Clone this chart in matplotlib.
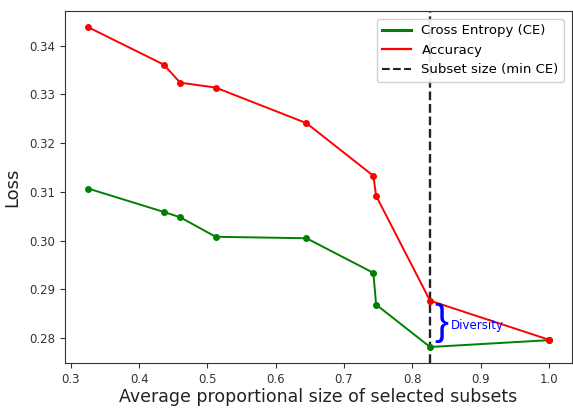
import matplotlib
matplotlib.use("Agg")
import matplotlib.pyplot as plt
from matplotlib.lines import Line2D

# Average proportional subset size for each selection step
subset_size = [0.325, 0.436, 0.460, 0.512, 0.645, 0.743, 0.747, 0.826, 1.0]
# Loss when subsets are selected by cross entropy
ce_loss = [0.3107, 0.3059, 0.3048, 0.3008, 0.3005, 0.2934, 0.2869, 0.2782, 0.2796]
# Loss when subsets are selected by accuracy
acc_loss = [0.3438, 0.3361, 0.3324, 0.3314, 0.3241, 0.3133, 0.3092, 0.2877, 0.2797]

min_ce_size = subset_size[ce_loss.index(min(ce_loss))]

fig = plt.figure(figsize=(5.73, 4.11), dpi=100)
ax = fig.add_axes([0.1134, 0.1168, 0.8846, 0.8562])

ax.plot(subset_size, ce_loss, color="green", lw=1.4, marker="o", ms=4)
ax.plot(subset_size, acc_loss, color="red", lw=1.4, marker="o", ms=4)
ax.axvline(min_ce_size, color="#222222", ls="--", lw=1.7, zorder=1)

# Gap between the two curves at the chosen subset size
gap_mid = (acc_loss[7] + ce_loss[7]) / 2
ax.text(min_ce_size + 0.017, gap_mid + 0.0002, "}", color="blue", fontsize=30,
        family="Liberation Sans", ha="center", va="center")
ax.text(min_ce_size + 0.031, gap_mid - 0.0003, "Diversity", color="blue",
        fontsize=8.5, ha="left", va="center")

ax.set_xticks([0.3, 0.4, 0.5, 0.6, 0.7, 0.8, 0.9, 1.0])
ax.set_yticks([0.28, 0.29, 0.30, 0.31, 0.32, 0.33, 0.34])
ax.tick_params(labelsize=8.5, colors="#333333")
ax.set_xlabel("Average proportional size of selected subsets", fontsize=12.5,
              color="#222222", labelpad=2)
ax.set_ylabel("Loss", fontsize=13, color="#222222", labelpad=6)
for sp in ax.spines.values():
    sp.set_color("#333333")

handles = [
    Line2D([], [], color="green", lw=2.2),
    Line2D([], [], color="red", lw=1.6),
    Line2D([], [], color="#222222", ls="--", lw=1.5),
]
labels = ["Cross Entropy (CE)", "Accuracy", "Subset size (min CE)"]
ax.legend(handles, labels, loc="upper right", fontsize=9.5, framealpha=0.9,
          borderaxespad=0.6, handlelength=2.2)

fig.savefig("out.png", dpi=100)
